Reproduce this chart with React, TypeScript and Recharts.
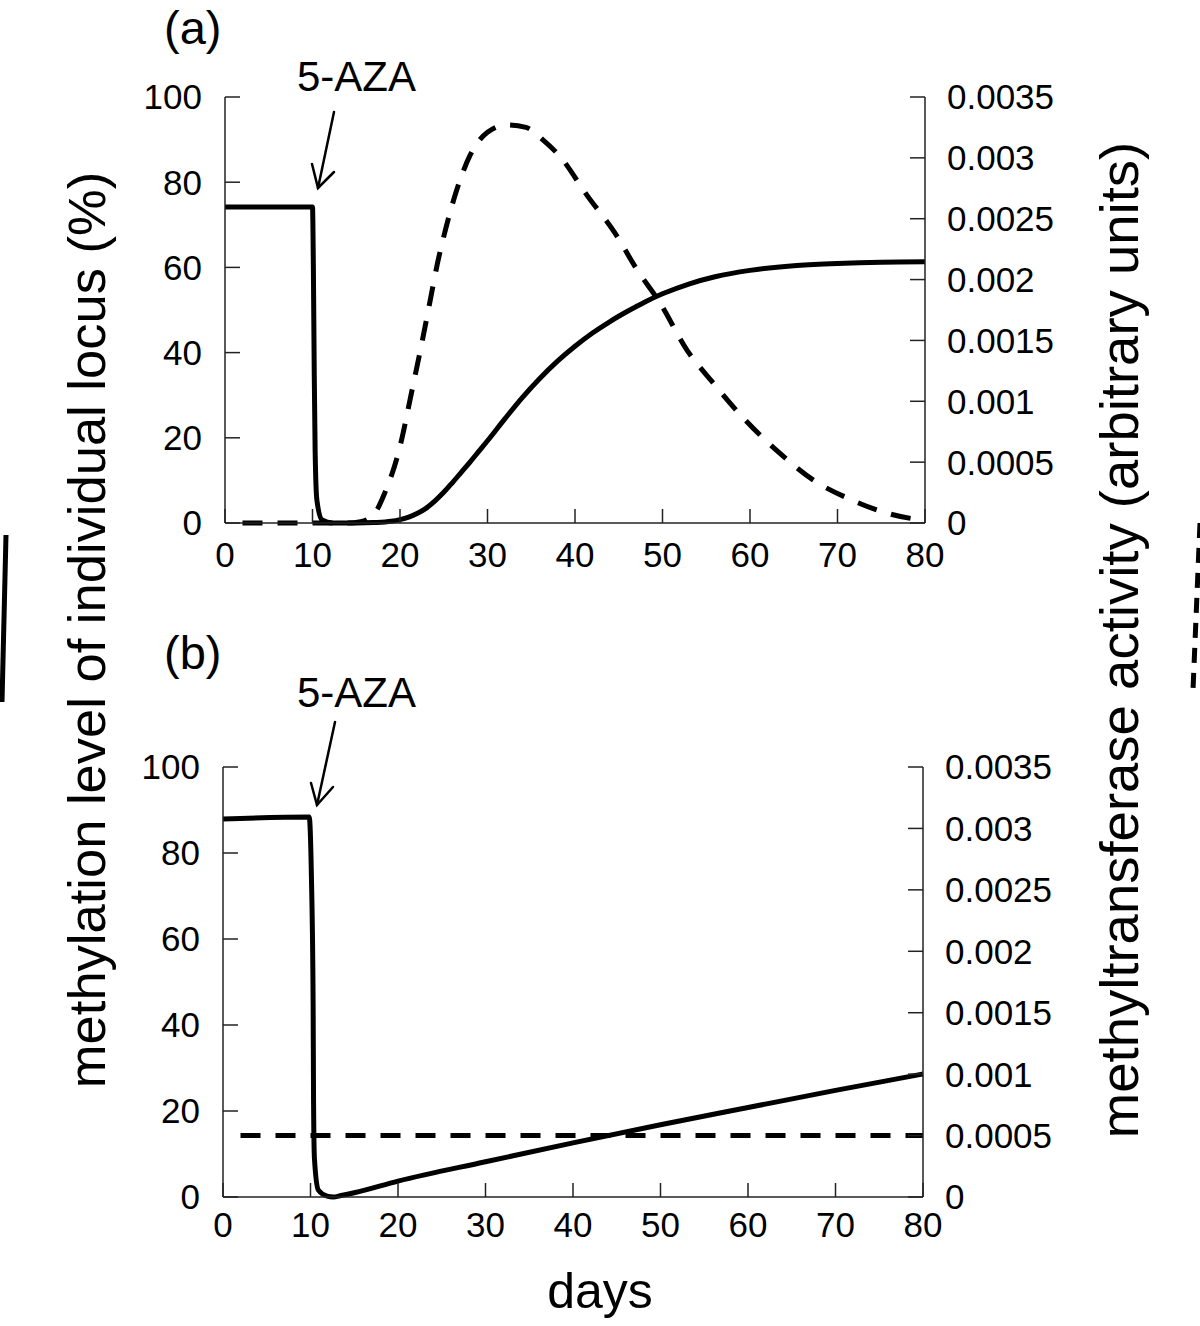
import React from 'react';
import { LineChart, Line, XAxis, YAxis } from 'recharts';

const FONT = '"Liberation Sans", Arial, Helvetica, sans-serif';

// tick labels
const dayTicks = [0, 10, 20, 30, 40, 50, 60, 70, 80];
const methTicks = [0, 20, 40, 60, 80, 100];
const activityTicks = [0, 0.0005, 0.001, 0.0015, 0.002, 0.0025, 0.003, 0.0035];

// panel (a): methylation level (%) - solid
const daysMethA = [0, 10.0, 10.1, 10.2, 10.3, 10.5, 11.1, 12.3, 15, 17, 19, 20, 21, 22, 23, 24, 25, 26, 27, 28, 29, 30, 32, 34, 36, 38, 40, 42, 44, 46, 48, 50, 53, 56, 60, 65, 70, 75, 80];
const methA = [74.2, 74.2, 60, 35, 17, 5.4, 0.7, 0, 0, 0.1, 0.4, 0.8, 1.4, 2.3, 3.5, 5.2, 7.2, 9.5, 11.9, 14.3, 16.8, 19.3, 24.5, 29.5, 34, 38, 41.5, 44.6, 47.3, 49.7, 51.9, 53.8, 56.1, 57.8, 59.3, 60.4, 60.9, 61.2, 61.3];

// panel (a): methyltransferase activity - dashed
const daysActA = [2, 14, 15.5, 16.5, 17.3, 18.1, 19.9, 21.4, 22.5, 23.4, 24.3, 25.2, 26.5, 28.0, 30.0, 32.2, 34.4, 36.3, 38.3, 41.4, 44.5, 47.1, 49.7, 52.8, 55.8, 59.4, 63.3, 67.3, 71.6, 76.0, 80];
const actA = [0, 0, 0.00001, 0.00004, 0.0001, 0.00022, 0.0006, 0.0011, 0.00148, 0.00181, 0.00214, 0.00241, 0.00274, 0.00302, 0.00321, 0.00327, 0.00325, 0.00315, 0.00301, 0.00269, 0.00239, 0.00208, 0.00181, 0.00142, 0.00115, 0.00085, 0.00058, 0.00035, 0.00019, 0.000074, 0.00002];

// panel (b): methylation level (%) - solid
const daysMethB = [0, 9.85, 10.1, 10.3, 10.35, 10.45, 10.9, 11.9, 12.6, 13.5, 15, 20, 30, 40, 50, 60, 70, 80];
const methB = [87.9, 88.4, 75, 45, 22, 9, 1.6, 0.2, 0, 0.35, 1.0, 3.7, 8.2, 12.6, 16.8, 20.8, 24.8, 28.6];

// panel (b): methyltransferase activity - dashed
const daysActB = [2, 80];
const actB = [0.0005, 0.0005];

const zip = (xs: number[], ys: number[], key: string) =>
  xs.map((x, i) => ({ day: x, [key]: ys[i] }));

const axisLine = { stroke: '#222', strokeWidth: 1.5 };
const tickStyle = { fill: '#000', fontSize: 35, fontFamily: FONT };

type PanelProps = {
  top: number;
  leftW: number;
  rightW: number;
  xAxisH: number;
  xTickMargin: number;
  methData: any[];
  actData: any[];
};

function Panel({ top, leftW, rightW, xAxisH, xTickMargin, methData, actData }: PanelProps) {
  return (
    <div style={{ position: 'absolute', left: 0, top }}>
      <LineChart width={1200} height={600} margin={{ top: 97, right: 0, bottom: 0, left: 0 }}>
        <XAxis
          dataKey="day"
          type="number"
          domain={[0, 80]}
          ticks={dayTicks}
          interval={0}
          height={xAxisH}
          tickSize={-14}
          tickMargin={xTickMargin}
          axisLine={axisLine}
          tickLine={axisLine}
          tick={tickStyle}
          allowDuplicatedCategory={false}
        />
        <YAxis
          yAxisId="meth"
          orientation="left"
          domain={[0, 100]}
          ticks={methTicks}
          interval={0}
          width={leftW}
          tickSize={-15}
          tickMargin={38}
          axisLine={axisLine}
          tickLine={axisLine}
          tick={tickStyle}
        />
        <YAxis
          yAxisId="act"
          orientation="right"
          domain={[0, 0.0035]}
          ticks={activityTicks}
          interval={0}
          width={rightW}
          tickSize={-15}
          tickMargin={37}
          axisLine={axisLine}
          tickLine={axisLine}
          tick={tickStyle}
          tickFormatter={(v: number) => String(v)}
        />
        <Line
          yAxisId="act"
          data={actData}
          dataKey="act"
          type="monotone"
          stroke="#000"
          strokeWidth={5}
          strokeDasharray="20 15"
          dot={false}
          activeDot={false}
          isAnimationActive={false}
        />
        <Line
          yAxisId="meth"
          data={methData}
          dataKey="meth"
          type="monotone"
          stroke="#000"
          strokeWidth={5}
          dot={false}
          activeDot={false}
          isAnimationActive={false}
        />
      </LineChart>
    </div>
  );
}

export default function App() {
  return (
    <div style={{ position: 'absolute', left: 0, top: 0, width: 1200, height: 1326, background: '#fff', fontFamily: FONT }}>
      <Panel
        top={0}
        leftW={225}
        rightW={275}
        xAxisH={77}
        xTickMargin={33}
        methData={zip(daysMethA, methA, 'meth')}
        actData={zip(daysActA, actA, 'act')}
      />
      <Panel
        top={670}
        leftW={223}
        rightW={277}
        xAxisH={73}
        xTickMargin={29}
        methData={zip(daysMethB, methB, 'meth')}
        actData={zip(daysActB, actB, 'act')}
      />
      <svg
        width={1200}
        height={1326}
        style={{ position: 'absolute', left: 0, top: 0, pointerEvents: 'none' }}
      >
        <g fontFamily={FONT} fill="#000">
          <text x={164} y={44} fontSize={47}>(a)</text>
          <text x={297} y={91} fontSize={42}>5-AZA</text>
          <text x={164} y={669} fontSize={47}>(b)</text>
          <text x={297} y={707} fontSize={42}>5-AZA</text>
          <text x={600} y={1308} fontSize={50} textAnchor="middle">days</text>
          <text x={105} y={630} fontSize={52.5} textAnchor="middle" transform="rotate(-90 105 630)">
            methylation level of individual locus (%)
          </text>
          <text x={1138} y={640} fontSize={54.5} textAnchor="middle" transform="rotate(-90 1138 640)">
            methyltransferase activity (arbitrary units)
          </text>
        </g>
        <g stroke="#000" strokeWidth={2.5} fill="none" strokeLinecap="round">
          <line x1={334} y1={112} x2={318} y2={188} />
          <polyline points="312,164 318,188 334,172" />
          <line x1={335} y1={722} x2={317} y2={805} />
          <polyline points="311,783 317,805 333,787" />
        </g>
        <line x1={6} y1={535} x2={2} y2={702} stroke="#000" strokeWidth={5} />
        <line x1={1200} y1={523} x2={1193} y2={690} stroke="#000" strokeWidth={5} strokeDasharray="15 10" />
      </svg>
    </div>
  );
}
